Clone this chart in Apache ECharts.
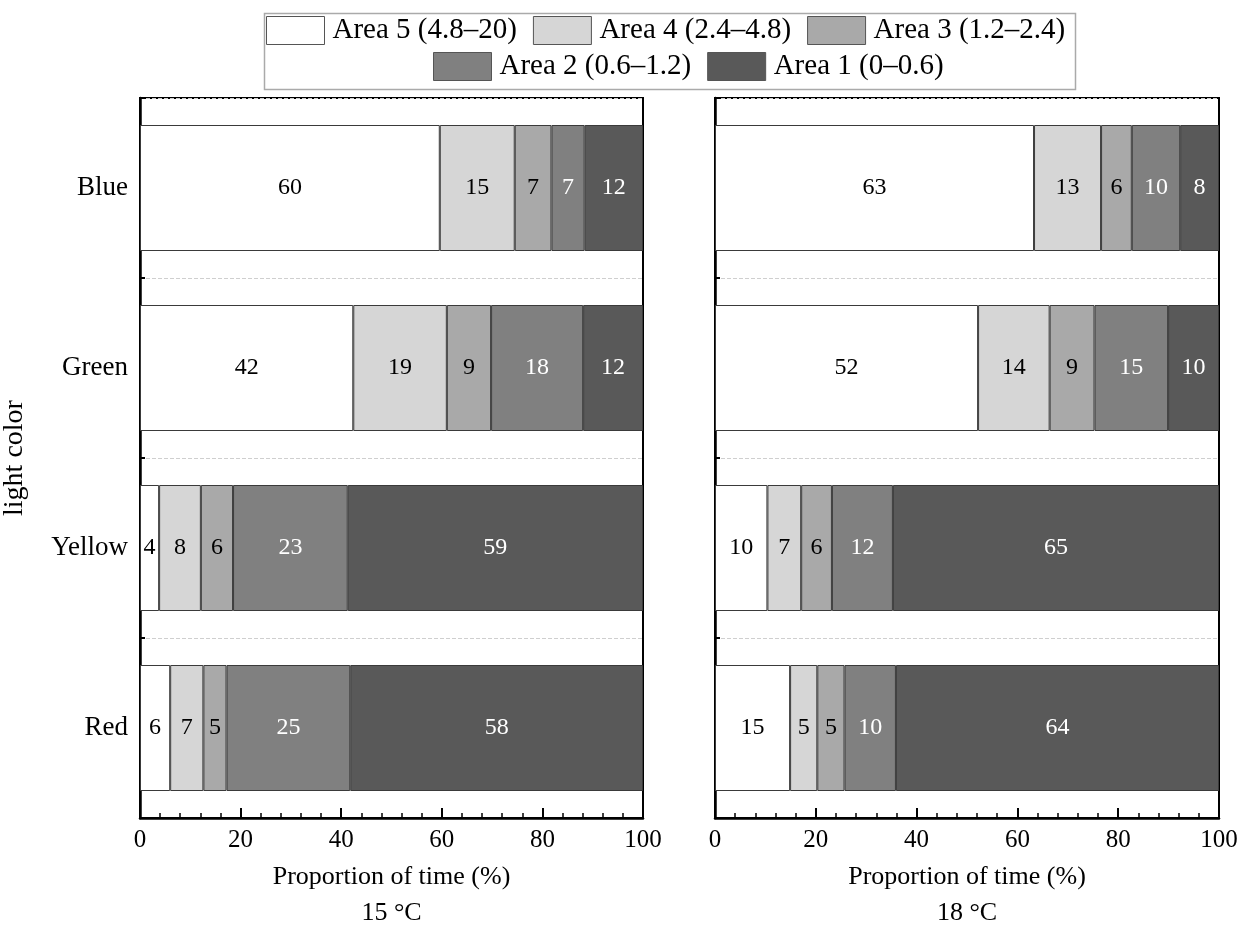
<!DOCTYPE html>
<html>
<head>
<meta charset="utf-8">
<script src="https://cdn.jsdelivr.net/npm/echarts@6/dist/echarts.min.js"></script>
<style>html,body{margin:0;padding:0;background:#fff}#c{width:1249px;height:929px}</style>
</head>
<body>
<div id="c"></div>
<script>
// categories bottom to top
const categories = ['Red', 'Yellow', 'Green', 'Blue'];
const seriesNames = ['Area 5 (4.8\u201320)', 'Area 4 (2.4\u20134.8)', 'Area 3 (1.2\u20132.4)', 'Area 2 (0.6\u20131.2)', 'Area 1 (0\u20130.6)'];
const xTicks = [0, 20, 40, 60, 80, 100];
const panelTitles = ['15 \u00B0C', '18 \u00B0C'];

// 15 °C panel: values per category (Red, Yellow, Green, Blue)
const t15_area5 = [6.0, 3.8, 42.4, 59.6];
const t15_area4 = [6.6, 8.3, 18.6, 14.9];
const t15_area3 = [4.6, 6.4, 8.8, 7.3];
const t15_area2 = [24.6, 22.8, 18.3, 6.6];
const t15_area1 = [58.2, 58.7, 11.9, 11.6];

// 18 °C panel
const t18_area5 = [14.9, 10.4, 52.2, 63.3];
const t18_area4 = [5.4, 6.7, 14.2, 13.3];
const t18_area3 = [5.4, 6.1, 8.9, 6.1];
const t18_area2 = [10.2, 12.1, 14.6, 9.6];
const t18_area1 = [64.1, 64.7, 10.1, 7.7];

const colors = ['#ffffff', '#d6d6d6', '#a9a9a9', '#808080', '#595959'];
const labelColors = ['#000', '#000', '#000', '#fff', '#fff'];
const FONT = '"Liberation Serif", "Times New Roman", serif';

const panels = [
  [t15_area5, t15_area4, t15_area3, t15_area2, t15_area1],
  [t18_area5, t18_area4, t18_area3, t18_area2, t18_area1]
];

const grids = [
  {left: 140, right: 606, top: 98, bottom: 111, outerBoundsMode: 'none', containLabel: false, show: true, borderColor: '#000', borderWidth: 2, backgroundColor: 'transparent'},
  {left: 715, right: 30, top: 98, bottom: 111, outerBoundsMode: 'none', containLabel: false, show: true, borderColor: '#000', borderWidth: 2, backgroundColor: 'transparent'}
];

const xAxes = grids.map((g, i) => ({
  type: 'value', gridIndex: i, min: 0, max: 100, interval: 20,
  name: 'Proportion of time (%)\n' + panelTitles[i],
  nameLocation: 'middle', nameGap: 41,
  nameTextStyle: {fontFamily: FONT, fontSize: 26, color: '#000', lineHeight: 36, verticalAlign: 'top'},
  axisLine: {show: true, lineStyle: {color: '#000', width: 2.5}},
  axisTick: {show: true, inside: true, length: 10, lineStyle: {color: '#000', width: 2}},
  minorTick: {show: true, splitNumber: 5, length: 5, lineStyle: {color: '#000', width: 1.5}},
  splitLine: {show: false},
  axisLabel: {fontFamily: FONT, fontSize: 25, color: '#000', margin: 10,
    formatter: v => xTicks.indexOf(v) >= 0 ? String(v) : ''}
}));

const yAxes = grids.map((g, i) => ({
  type: 'category', gridIndex: i, data: categories,
  name: i === 0 ? 'light color' : '',
  nameLocation: 'middle', nameGap: 111, nameRotate: 90,
  nameTextStyle: {fontFamily: FONT, fontSize: 28, color: '#000'},
  axisLine: {show: true, lineStyle: {color: '#000', width: 2.5}},
  axisTick: {show: true, inside: true, length: 5, lineStyle: {color: '#000', width: 2}},
  splitLine: {show: true, lineStyle: {color: '#cfcfcf', type: 'dashed', width: 1}},
  axisLabel: {show: i === 0, fontFamily: FONT, fontSize: 27, color: '#000', margin: 12}
}));

const series = [];
panels.forEach((vals, p) => {
  vals.forEach((arr, k) => {
    series.push({
      type: 'bar', name: seriesNames[k], stack: 'p' + p,
      xAxisIndex: p, yAxisIndex: p, barWidth: '70%',
      data: arr,
      itemStyle: {color: colors[k], borderColor: '#3a3a3a', borderWidth: 1},
      label: {show: true, position: 'inside', fontFamily: FONT, fontSize: 24,
        color: labelColors[k], formatter: d => String(Math.round(d.value))},
      emphasis: {disabled: true}
    });
  });
});

const legendCommon = {
  orient: 'horizontal', itemWidth: 58, itemHeight: 28, itemGap: 16,
  icon: 'rect', selectedMode: false, padding: 0,
  textStyle: {fontFamily: FONT, fontSize: 29, color: '#000', padding: [3, 0, 0, 3]},
  itemStyle: {borderColor: '#555', borderWidth: 1}
};

const option = {
  backgroundColor: '#fff',
  animation: false,
  color: colors,
  legend: [
    Object.assign({}, legendCommon, {data: seriesNames.slice(0, 3), left: 266, top: 16}),
    Object.assign({}, legendCommon, {data: seriesNames.slice(3), left: 433, top: 52})
  ],
  graphic: [{
    type: 'rect', left: 262, top: 11,
    shape: {width: 811, height: 76},
    style: {fill: 'none', stroke: '#aaa', lineWidth: 1.5}
  }],
  grid: grids,
  xAxis: xAxes,
  yAxis: yAxes,
  series: series
};

const chart = echarts.init(document.getElementById('c'), null, {renderer: 'canvas'});
chart.setOption(option);
</script>
</body>
</html>
